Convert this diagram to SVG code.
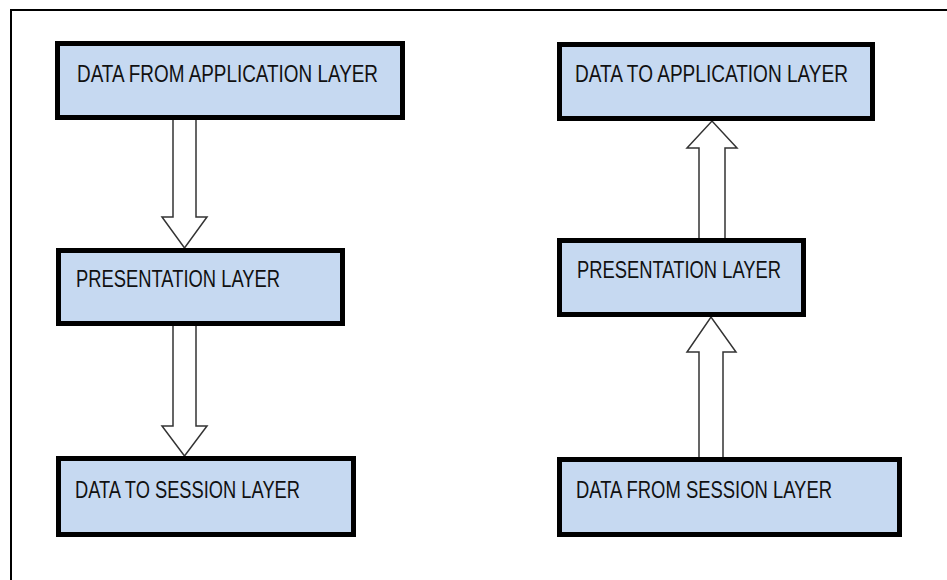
<svg xmlns="http://www.w3.org/2000/svg" width="947" height="580" viewBox="0 0 947 580">
<style>
.box{fill:#c6d9f1;stroke:#000;stroke-width:5}
.lbl{font-family:"Liberation Sans Narrow","Liberation Sans",Arial,sans-serif;font-size:24px;fill:#111}
.arr{fill:#fff;stroke:#333;stroke-width:1.5;stroke-linejoin:miter}
</style>
<rect x="0" y="0" width="947" height="580" fill="#fff"/>
<path d="M11 580 V10 H947" fill="none" stroke="#000" stroke-width="2"/>
<g id="connectors">
<polygon class="arr" points="173,118 196,118 196,217 207,217 184.5,248 162,217 173,217"/>
<polygon class="arr" points="173,324 196,324 196,426 207,426 184.5,456 162,426 173,426"/>
<polygon class="arr" points="699,240 725,240 725,148 737,148 712,121 687,148 699,148"/>
<polygon class="arr" points="699,459 723,459 723,352 736,352 711,317 687,352 699,352"/>
</g>
<g id="node-data-from-application">
<rect class="box" x="57.5" y="43.5" width="345" height="74"/>
<text class="lbl" x="77" y="82" textLength="301" lengthAdjust="spacingAndGlyphs">DATA FROM APPLICATION LAYER</text>
</g>
<g id="node-presentation-left">
<rect class="box" x="58.5" y="250.5" width="284" height="73"/>
<text class="lbl" x="76" y="287" textLength="204" lengthAdjust="spacingAndGlyphs">PRESENTATION LAYER</text>
</g>
<g id="node-data-to-session">
<rect class="box" x="58.5" y="458.5" width="295" height="76"/>
<text class="lbl" x="75" y="498" textLength="225" lengthAdjust="spacingAndGlyphs">DATA TO SESSION LAYER</text>
</g>
<g id="node-data-to-application">
<rect class="box" x="559.5" y="44.5" width="313" height="74"/>
<text class="lbl" x="575" y="82" textLength="273" lengthAdjust="spacingAndGlyphs">DATA TO APPLICATION LAYER</text>
</g>
<g id="node-presentation-right">
<rect class="box" x="559.5" y="240.5" width="244" height="74"/>
<text class="lbl" x="577" y="278" textLength="204" lengthAdjust="spacingAndGlyphs">PRESENTATION LAYER</text>
</g>
<g id="node-data-from-session">
<rect class="box" x="559.5" y="459.5" width="340" height="75"/>
<text class="lbl" x="576" y="498" textLength="256" lengthAdjust="spacingAndGlyphs">DATA FROM SESSION LAYER</text>
</g>
</svg>
